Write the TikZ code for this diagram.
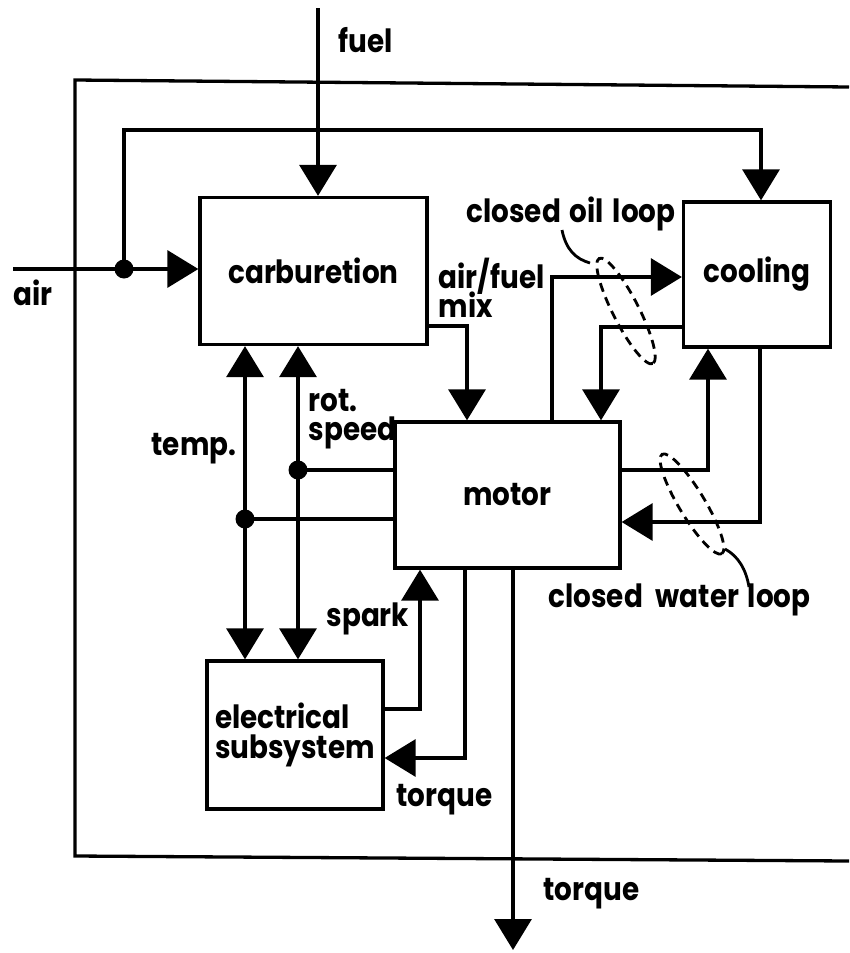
\documentclass[tikz,border=0pt]{standalone}
\usepackage{fontspec}
\newfontfamily\lab{Poppins}[FakeStretch=0.87, WordSpace=1.5]
\usetikzlibrary{arrows.meta,calc}
\begin{document}
\begin{tikzpicture}[x=1pt,y=-1pt,
  line width=3.3pt, line join=miter,
  txt/.style={font=\lab\bfseries\fontsize{32}{30}\selectfont, inner sep=0pt},
  box/.style={draw, rectangle, line width=3.3pt, inner sep=0pt, txt},
  arr/.style={-{Triangle[length=31pt,width=37pt]}},
  dot/.style={circle, fill, inner sep=0pt, minimum size=19pt},
  loopline/.style={dash pattern=on 9pt off 6pt, line width=2.8pt},
  leader/.style={line width=2.8pt}
]
\useasboundingbox (0,0) rectangle (849,953);
% frame
\draw (849,87) -- (75,80) -- (75,856) -- (849,861);
% boxes
\node[box, minimum width=227pt, minimum height=147pt] (carb) at (313.5,271) {carburetion};
\node[box, minimum width=225pt, minimum height=146pt] (motor) at (507.5,495) {motor};
\node[box, minimum width=147pt, minimum height=145pt] (cool) at (757,274.5) {cooling};
\node[box, minimum width=176pt, minimum height=148pt, align=left] (elec) at (295,735) {electrical\\subsystem};
% junction dots and bend points
\node[dot] (jair) at (124,269) {};
\node[dot] (jr) at (298,470) {};
\node[dot] (jt) at (245,519) {};
\coordinate (fuelin) at (318,8);
\coordinate (airin) at (13,269);
\coordinate (topc) at (124,130);
\coordinate (afm) at (467,326);
\coordinate (oil1) at (552,277);
\coordinate (oil2) at (601,327);
\coordinate (w1) at (708,470);
\coordinate (w2) at (760,522);
\coordinate (sp) at (420,709);
\coordinate (tq) at (465,758);
\coordinate (out) at (513,950);
% connectors
\draw[arr] (fuelin) -- (fuelin |- carb.north);
\draw (airin) -- (jair.center);
\draw[arr] (jair.center) -- (carb.west |- jair.center);
\draw[arr] (jair.center) -- (topc) -| ([xshift=4pt]cool.north);
\draw[arr] (carb.east |- afm) -| (motor.north -| afm);
\draw[arr] (motor.north -| oil1) |- (cool.west |- oil1);
\draw[arr] (cool.west |- oil2) -| (motor.north -| oil2);
\draw[arr] (motor.east |- w1) -| (cool.south -| w1);
\draw[arr] (cool.south -| w2) |- (motor.east |- w2);
\draw (motor.west |- jr.center) -- (jr.center);
\draw (motor.west |- jt.center) -- (jt.center);
\draw[arr] (jr.center) -- (carb.south -| jr.center);
\draw[arr] (jr.center) -- (elec.north -| jr.center);
\draw[arr] (jt.center) -- (carb.south -| jt.center);
\draw[arr] (jt.center) -- (elec.north -| jt.center);
\draw[arr] (elec.east |- sp) -| (motor.south -| sp);
\draw[arr] (motor.south -| tq) |- (elec.east |- tq);
\draw[arr] (motor.south -| out) -- (out);
% loops
\draw[loopline, rotate around={-63:(626,311)}] (626,311) ellipse [x radius=59, y radius=13];
\draw[leader] (562,230) .. controls (566,250) and (576,259) .. (590,263);
\draw[loopline, rotate around={-59:(692,504)}] (692,504) ellipse [x radius=58, y radius=13];
\draw[leader] (725,549) .. controls (738,556) and (746,569) .. (749,587);
% labels
\node[txt, anchor=base west] (fuelL) at (337,52) {fuel};
\node[txt, anchor=base west] (airL) at (12,305) {air};
\node[txt, anchor=base west] (af1) at (437,288) {air/fuel};
\node[txt, anchor=base west] (af2) at (437,317) {mix};
\node[txt, anchor=base west] (oilL) at (465,222) {closed oil loop};
\node[txt, anchor=base west] (rotL) at (307,411) {rot.};
\node[txt, anchor=base west] (spdL) at (307,440) {speed};
\node[txt, anchor=base west] (tempL) at (150,455) {temp.};
\node[txt, anchor=base west] (sparkL) at (325,626) {spark};
\node[txt, anchor=base west] (tq1L) at (395,806) {torque};
\node[txt, anchor=base west] (waterL) at (547,607) {closed\hspace{0.12em} water loop};
\node[txt, anchor=base west] (tq2L) at (542,900) {torque};
\end{tikzpicture}
\end{document}
